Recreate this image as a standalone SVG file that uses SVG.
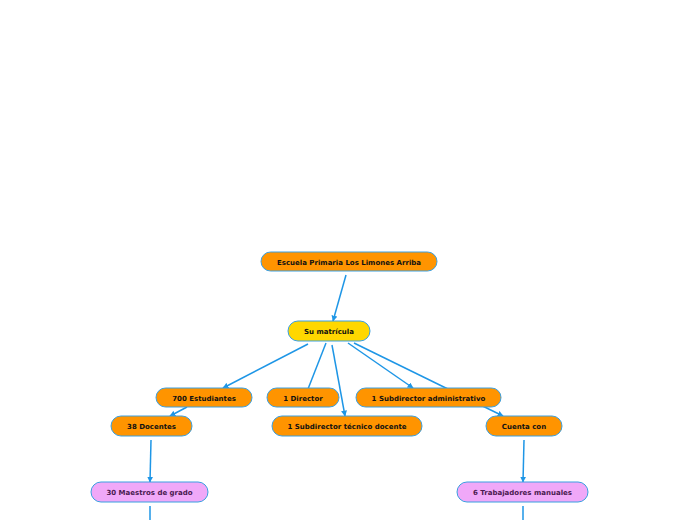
<svg xmlns="http://www.w3.org/2000/svg" width="696" height="520" viewBox="0 0 696 520">
<defs>
<marker id="arr" viewBox="0 0 10 10" refX="9" refY="5" markerWidth="6" markerHeight="6" orient="auto" markerUnits="userSpaceOnUse">
<path d="M0,0 L10,5 L0,10 z" fill="#1e96e6"/>
</marker>
<style>
.n rect{stroke:#3a9fe0;stroke-width:1}
.o rect{fill:#ff9400}
.y rect{fill:#ffd700}
.p rect{fill:#f0a8f8}
text{font-family:"DejaVu Sans",Verdana,sans-serif;font-weight:bold;font-size:7px;text-anchor:middle;fill:#111}
.p text{fill:#4a1a50}
.c line{stroke:#1e96e6;stroke-width:1.5;fill:none}
.c .a{marker-end:url(#arr)}
</style>
</defs>
<rect width="696" height="520" fill="#fff"/>
<g id="connectors" class="c">
<line class="a" x1="346" y1="275" x2="333" y2="321"/>
<line class="a" x1="308" y1="344" x2="223" y2="388"/>
<line x1="326" y1="343" x2="308" y2="389"/>
<line class="a" x1="332" y1="345" x2="345" y2="416"/>
<line class="a" x1="348" y1="343" x2="413" y2="388"/>
<line class="a" x1="354" y1="343" x2="503" y2="416"/>
<line class="a" x1="187" y1="407" x2="170" y2="416"/>
<line class="a" x1="151" y1="440" x2="150" y2="482"/>
<line class="a" x1="524" y1="440" x2="523" y2="482"/>
<line x1="150" y1="506" x2="150" y2="520"/>
<line x1="523" y1="506" x2="523" y2="520"/>
</g>
<g id="n1" class="n o"><rect x="261" y="252" width="176" height="19" rx="9.5"/><text x="349" y="264.5">Escuela Primaria Los Limones Arriba</text></g>
<g id="n2" class="n y"><rect x="288" y="321" width="82" height="20" rx="10"/><text x="329" y="334">Su matrícula</text></g>
<g id="n3" class="n o"><rect x="156" y="388" width="96" height="19" rx="9.5"/><text x="204" y="400.5">700 Estudiantes</text></g>
<g id="n4" class="n o"><rect x="267" y="388" width="72" height="19" rx="9.5"/><text x="303" y="400.5">1 Director</text></g>
<g id="n5" class="n o"><rect x="356" y="388" width="145" height="19" rx="9.5"/><text x="428.5" y="400.5">1 Subdirector administrativo</text></g>
<g id="n6" class="n o"><rect x="111" y="416" width="81" height="20" rx="10"/><text x="151.5" y="429">38 Docentes</text></g>
<g id="n7" class="n o"><rect x="272" y="416" width="150" height="20" rx="10"/><text x="347" y="429">1 Subdirector técnico docente</text></g>
<g id="n8" class="n o"><rect x="486" y="416" width="76" height="20" rx="10"/><text x="524" y="429">Cuenta con</text></g>
<g id="n9" class="n p"><rect x="91" y="482" width="117" height="20" rx="10"/><text x="149.5" y="495">30 Maestros de grado</text></g>
<g id="n10" class="n p"><rect x="457" y="482" width="131" height="20" rx="10"/><text x="522.5" y="495">6 Trabajadores manuales</text></g>
</svg>
